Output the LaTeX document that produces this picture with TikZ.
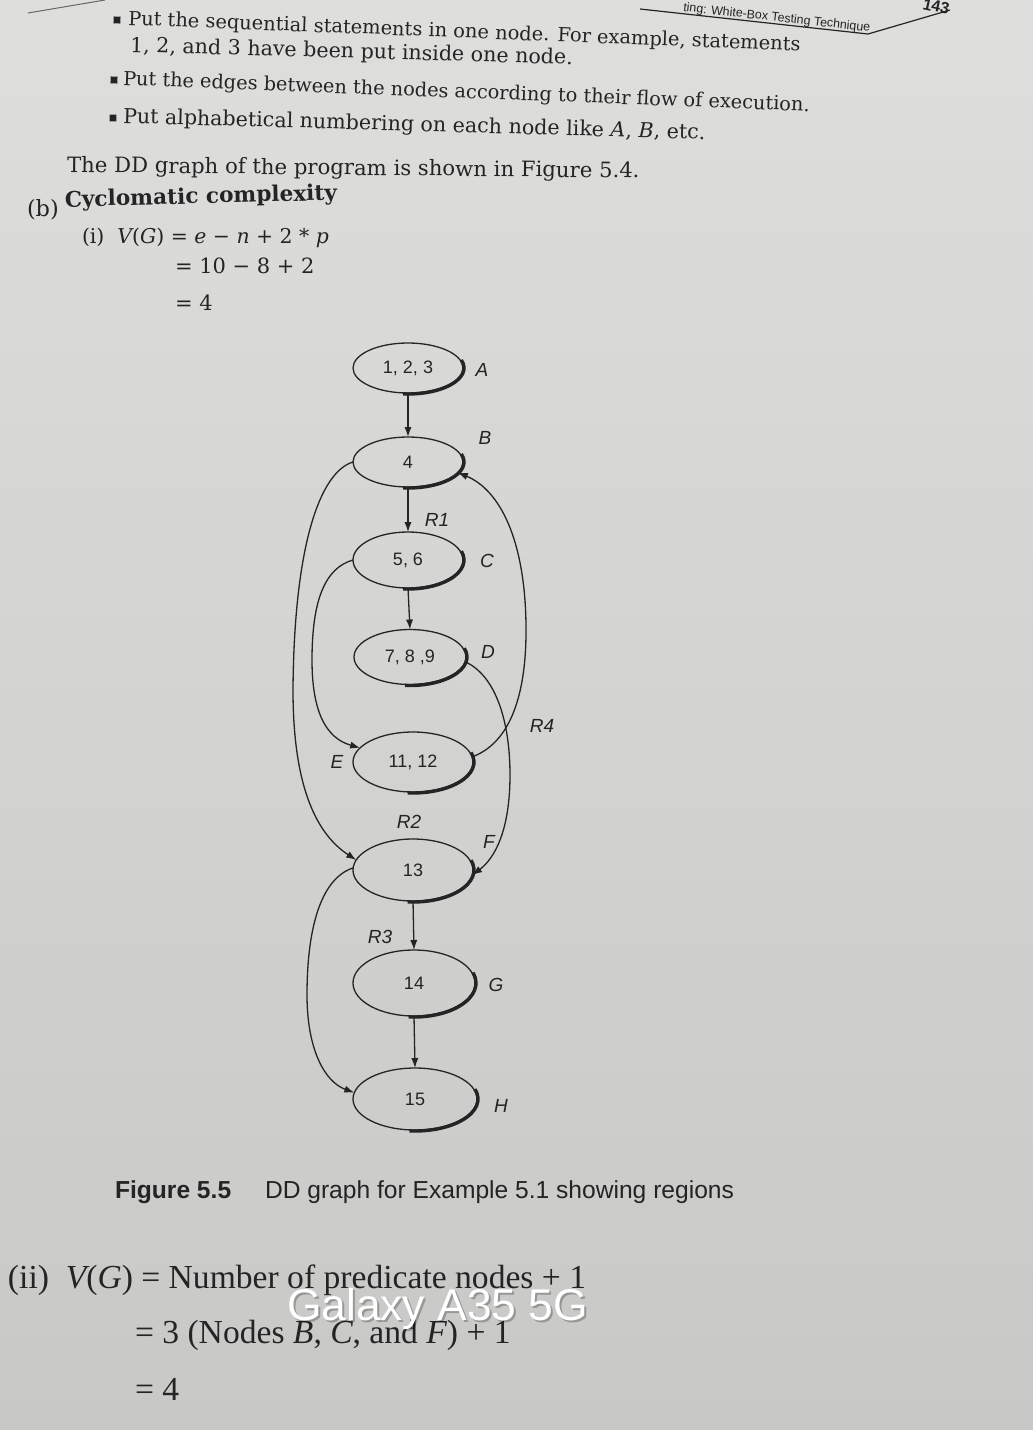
\documentclass[tikz,border=0pt]{standalone}
\usepackage{fontspec}
\setmainfont{DejaVu Serif}
\newfontfamily\tnr{Liberation Serif}
\newfontfamily\gsans{Liberation Sans}
\usetikzlibrary{shapes.geometric,arrows.meta}
\definecolor{ink}{RGB}{36,36,36}
\definecolor{pageA}{RGB}{222,222,220}
\definecolor{pageB}{RGB}{200,200,198}
\begin{document}
\begin{tikzpicture}[x=0.5pt,y=-0.5pt,
  txt/.style={anchor=base west, inner sep=0pt, outer sep=0pt, text=ink},
  body/.style={txt, font=\fontsize{#1}{12}\selectfont},
  big/.style={txt, font=\tnr\fontsize{16.8}{19}\selectfont},
  dd/.style={ellipse, draw=ink, line width=0.65pt, inner sep=0pt, outer sep=0pt,
    font=\gsans\fontsize{9}{11}\selectfont, text=ink},
  lbl/.style={font=\gsans\itshape\fontsize{9.5}{11}\selectfont, text=ink, inner sep=0pt},
  arr/.style={draw=ink, line width=0.65pt, -{Latex[length=5pt,width=3.6pt]}},
  bul/.style={fill=ink, minimum size=3.4pt, inner sep=0pt}]
\useasboundingbox (0,0) rectangle (1033,1430);
\clip (0,0) rectangle (1033,1430);
\shade[top color=pageA, bottom color=pageB] (0,0) rectangle (1033,1430);

% page header
\draw[ink!70, line width=0.5pt] (28,13) -- (105,0);
\draw[ink, line width=0.6pt] (640,9) -- (868,34) -- (950,10);
\node[txt, font=\gsans\fontsize{6.2}{7}\selectfont, rotate=-6.3] (hdr) at (683,11) {ting: White-Box Testing Technique};
\node[txt, font=\gsans\bfseries\fontsize{8}{9}\selectfont, rotate=-12] (pg) at (922,9) {143};

% bullet text
\node[bul, rotate=-2.3] (b1) at (117,20) {};
\node[body=9.7, rotate=-2.2] (l1) at (128,25) {Put the sequential statements in one node. For example, statements};
\node[body=10.3, rotate=-1.6] (l2) at (130,52) {1, 2, and 3 have been put inside one node.};
\node[bul, rotate=-2.3] (b2) at (114,80) {};
\node[body=9.65, rotate=-2.2] (l3) at (123,85) {Put the edges between the nodes according to their flow of execution.};
\node[bul, rotate=-1.6] (b3) at (113,118) {};
\node[body=10.3, rotate=-1.6] (l4) at (123,123) {Put alphabetical numbering on each node like {\itshape A}, {\itshape B}, etc.};
\node[body=10.6, rotate=-0.6] (l5) at (67,172) {The DD graph of the program is shown in Figure 5.4.};
\node[txt, font=\fontsize{11.2}{12}\selectfont] (bb) at (27,216) {(b)};
\node[txt, font=\bfseries\fontsize{10.8}{12}\selectfont, rotate=1.5] (bt) at (65,207) {Cyclomatic complexity};
\node[txt, font=\fontsize{10.2}{12}\selectfont] (m1) at (82,243) {(i)\ \ {\itshape V}({\itshape G}) = {\itshape e} − {\itshape n} + 2 * {\itshape p}};
\node[txt, font=\fontsize{10.5}{12}\selectfont] (m2) at (175,273) {= 10 − 8 + 2};
\node[txt, font=\fontsize{10.5}{12}\selectfont] (m3) at (175,310) {= 4};

% graph nodes
\node[dd, minimum width=55pt, minimum height=25pt] (nA) at (408,368) {1, 2, 3};
\node[dd, minimum width=55pt, minimum height=25pt] (nB) at (408,462) {4};
\node[dd, minimum width=55pt, minimum height=28pt] (nC) at (408,560) {5, 6};
\node[dd, minimum width=56pt, minimum height=27.5pt] (nD) at (410,657) {7, 8 ,9};
\node[dd, minimum width=60pt, minimum height=30pt] (nE) at (413,762) {11, 12};
\node[dd, minimum width=60pt, minimum height=31pt] (nF) at (413,870) {13};
\node[dd, minimum width=61pt, minimum height=33pt] (nG) at (414,983) {14};
\node[dd, minimum width=62pt, minimum height=31pt] (nH) at (415,1099) {15};

\foreach \n/\rx/\ry in {nA/27.5/12.5, nB/27.5/12.5, nC/27.5/14, nD/28/13.75,
    nE/30/15, nF/30/15.5, nG/30.5/16.5, nH/31/15.5}
  \draw[ink, line width=1.7pt] (\n.center) ++(18:\rx pt+0.5pt and \ry pt+0.5pt)
    arc[start angle=18, end angle=-95, x radius=\rx pt+0.5pt, y radius=\ry pt+0.5pt];

% labels
\node[lbl] (lA) at (482,370) {A};
\node[lbl] (lB) at (485,438) {B};
\node[lbl] (lC) at (487,561) {C};
\node[lbl] (lD) at (488,652) {D};
\node[lbl] (lE) at (337,762) {E};
\node[lbl] (lF) at (489,842) {F};
\node[lbl] (lG) at (496,985) {G};
\node[lbl] (lH) at (501,1106) {H};
\node[lbl] (r1) at (437,520) {R1};
\node[lbl] (r4) at (542,726) {R4};
\node[lbl] (r2) at (409,822) {R2};
\node[lbl] (r3) at (380,937) {R3};

% straight edges
\draw[arr] (nA.south) -- (nB.north);
\draw[arr] (nB.south) -- (nC.north);
\draw[arr] (nC.south) -- (nD.north);
\draw[arr] (nF.south) -- (nG.north);
\draw[arr] (nG.south) -- (nH.north);

% curved edges
\coordinate (w1) at (293,690);
\coordinate (w2) at (312,660);
\coordinate (w3) at (510,775);
\coordinate (w4) at (526,625);
\coordinate (w5) at (307,995);
\draw[arr] (nB.180) .. controls (320,472) and (294,545) .. (w1)
  .. controls (293,790) and (318,835) .. (nF.170);
\draw[arr] (nC.180) .. controls (325,568) and (312,600) .. (w2)
  .. controls (312,710) and (325,738) .. (nE.165);
\draw[arr] (nD.-5) .. controls (495,675) and (510,720) .. (w3)
  .. controls (510,830) and (495,858) .. (nF.-5);
\draw[arr] (nE.5) .. controls (505,745) and (527,705) .. (w4)
  .. controls (525,540) and (500,490) .. (nB.-12);
\draw[arr] (nF.178) .. controls (322,878) and (307,925) .. (w5)
  .. controls (307,1050) and (325,1082) .. (nH.174);

% caption
\node[txt, font=\gsans\bfseries\fontsize{12.3}{14}\selectfont] (fig) at (115,1198) {Figure 5.5};
\node[txt, font=\gsans\fontsize{12.3}{14}\selectfont] (cap) at (265,1198) {DD graph for Example 5.1 showing regions};

% bottom text
\node[big] (ii1) at (8,1288) {(ii)\ \ {\itshape V}({\itshape G}) = Number of predicate nodes + 1};
\node[big] (ii2) at (135,1343) {= 3 (Nodes {\itshape B}, {\itshape C}, and {\itshape F}) + 1};
\node[big] (ii3) at (135,1400) {= 4};

% watermark
\node[txt, font=\gsans\fontsize{22.2}{24}\selectfont, text=black, opacity=0.25] (wms) at (289,1322) {Galaxy A35 5G};
\node[txt, font=\gsans\fontsize{22.2}{24}\selectfont, text=white] (wm) at (287,1320) {Galaxy A35 5G};
\end{tikzpicture}
\end{document}
